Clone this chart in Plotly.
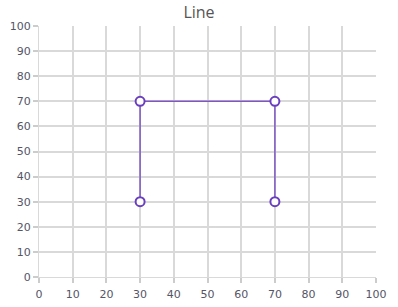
import plotly.graph_objects as go

x_vals = [30, 30, 70, 70]
y_vals = [30, 70, 70, 30]

fig = go.Figure()
fig.add_trace(go.Scatter(
    x=x_vals, y=y_vals, mode="lines+markers",
    line=dict(color="#7e57c2", width=1.5),
    marker=dict(size=9, color="white", line=dict(color="#6a3fbf", width=2)),
    showlegend=False,
))

axis_common = dict(
    range=[0, 100], dtick=10, showgrid=True, gridcolor="#d9d9d9", gridwidth=2,
    zeroline=False, showline=True, linecolor="#d9d9d9", linewidth=1,
    ticks="outside", ticklen=5, tickcolor="#cccccc", tickwidth=2,
    tickfont=dict(family="DejaVu Sans", size=11, color="#555566"),
    fixedrange=True, automargin=False,
)
fig.update_xaxes(**axis_common, ticklabelstandoff=2)
fig.update_yaxes(**axis_common)

fig.update_layout(
    width=398, height=307,
    margin=dict(l=39, r=22, t=26, b=30),
    paper_bgcolor="white", plot_bgcolor="white",
    title=dict(text="Line", x=0.5, xanchor="center", y=0.961, yanchor="middle",
               font=dict(family="Open Sans", size=16, color="#555555"),
               automargin=False),
)

fig.write_html("out.html")
